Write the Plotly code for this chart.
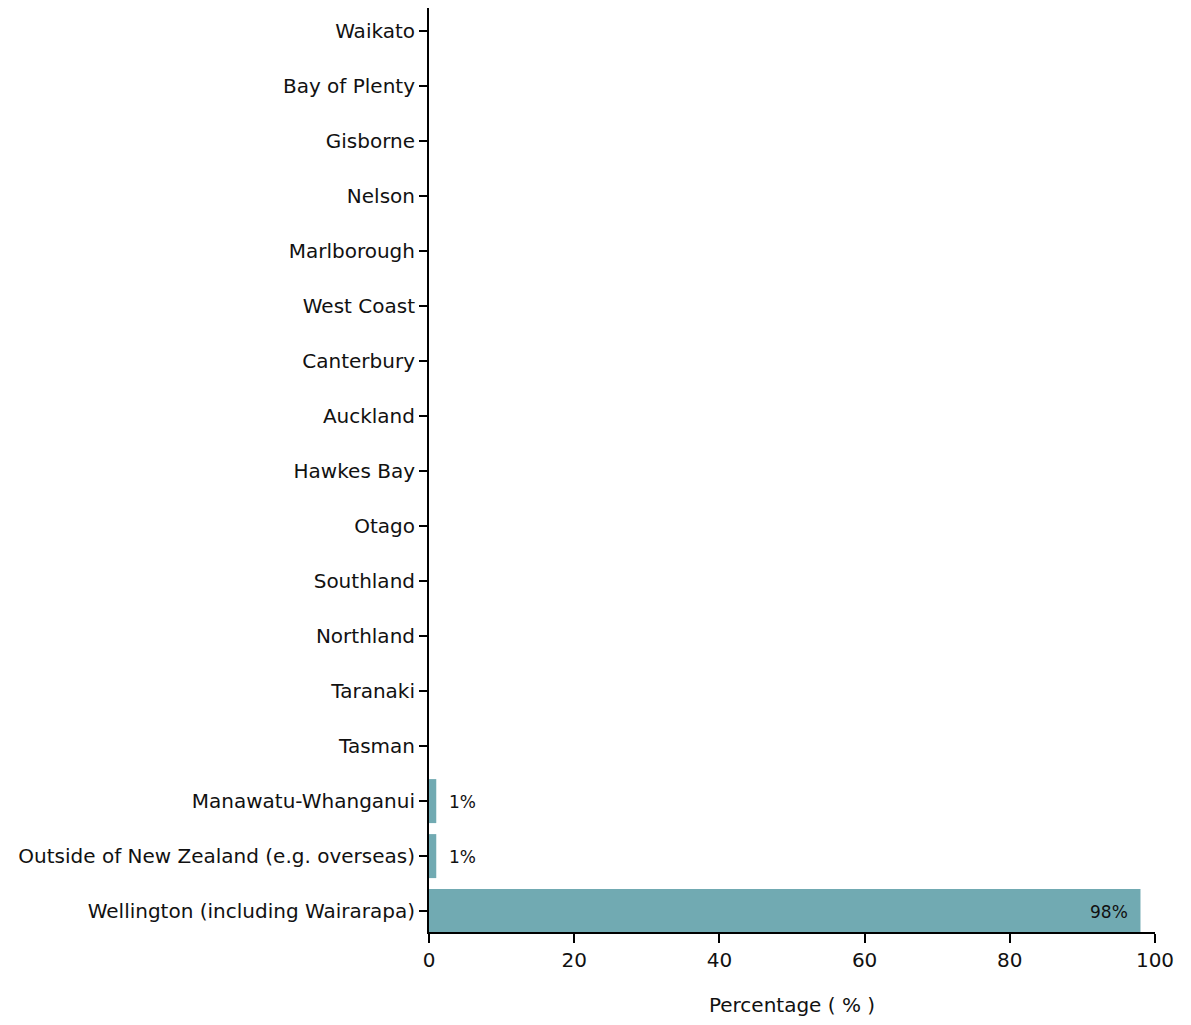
import plotly.graph_objects as go

categories = ["Waikato", "Bay of Plenty", "Gisborne", "Nelson", "Marlborough", "West Coast",
              "Canterbury", "Auckland", "Hawkes Bay", "Otago", "Southland", "Northland",
              "Taranaki", "Tasman", "Manawatu-Whanganui",
              "Outside of New Zealand (e.g. overseas)", "Wellington (including Wairarapa)"]
values = [0, 0, 0, 0, 0, 0, 0, 0, 0, 0, 0, 0, 0, 0, 1, 1, 98]
labels = ["", "", "", "", "", "", "", "", "", "", "", "", "", "", "1%", "1%", "98%"]
x_ticks = [0, 20, 40, 60, 80, 100]

FONT = "DejaVu Sans"
TXT = "#111111"
fig = go.Figure(go.Bar(
    y=categories, x=values, orientation="h",
    marker=dict(color="#71aab2", line=dict(width=0)),
    width=0.8,
    hoverinfo="x+y",
))
for cat, v, lab in zip(categories, values, labels):
    if not lab:
        continue
    inside = v > 50
    fig.add_annotation(
        x=v, y=cat, text=lab, showarrow=False,
        xanchor="right" if inside else "left",
        xshift=-10 if inside else 11,
        yshift=-1,
        font=dict(family=FONT, size=17, color=TXT),
    )
fig.update_layout(
    width=1183, height=1009,
    margin=dict(l=421, r=36, t=0, b=85),
    plot_bgcolor="white", paper_bgcolor="white",
    font=dict(family=FONT, size=20, color=TXT),
    showlegend=False,
)
fig.update_xaxes(
    range=[0, 100], tickvals=x_ticks, showgrid=False, zeroline=False,
    showline=True, linecolor="black", linewidth=2,
    ticks="outside", ticklen=9, tickwidth=2, tickcolor="black",
    tickfont=dict(family=FONT, size=20, color=TXT),
    title=dict(text="Percentage ( % )", font=dict(family=FONT, size=20, color=TXT), standoff=31),
)
fig.update_yaxes(
    categoryorder="array", categoryarray=categories[::-1],
    range=[-0.38, 16.42], showgrid=False, zeroline=False,
    showline=True, linecolor="black", linewidth=2,
    ticks="outside", ticklen=8, tickwidth=2, tickcolor="black",
    tickfont=dict(family=FONT, size=20, color=TXT),
)
fig.write_html("out.html")
